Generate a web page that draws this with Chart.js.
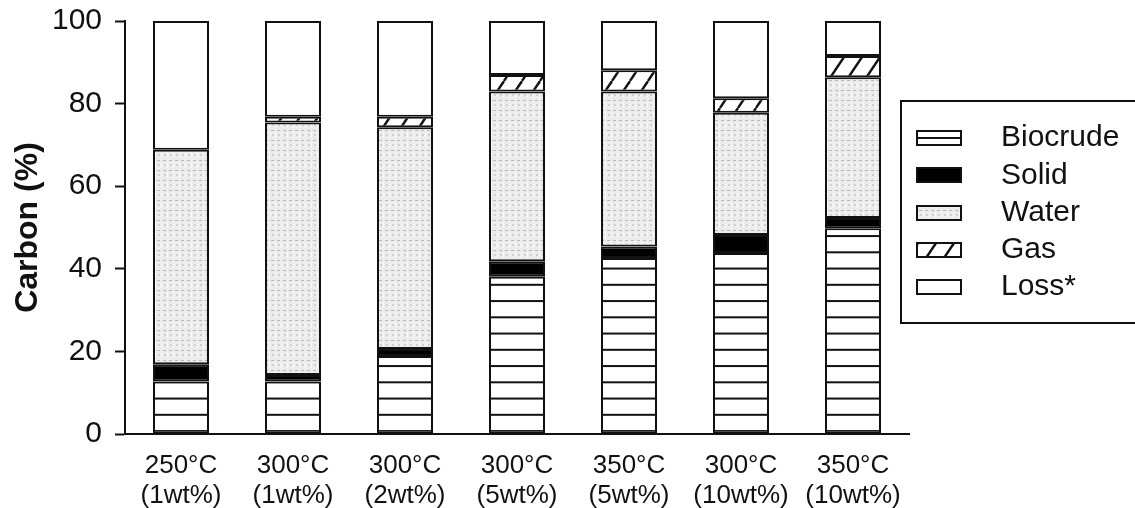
<!DOCTYPE html>
<html><head><meta charset="utf-8">
<script src="https://cdn.jsdelivr.net/npm/chart.js@4.4.1/dist/chart.umd.min.js"></script>
<style>html,body{margin:0;padding:0;background:#fff;}#wrap{width:1135px;height:508px;}</style>
</head><body><div id="wrap"><canvas id="c" width="1135" height="508"></canvas></div>
<script>
const categories = [['250°C','(1wt%)'], ['300°C','(1wt%)'], ['300°C','(2wt%)'], ['300°C','(5wt%)'], ['350°C','(5wt%)'], ['300°C','(10wt%)'], ['350°C','(10wt%)']];
const biocrude = [12.7, 12.7, 18.9, 38.1, 42.6, 43.8, 49.8];
const solid    = [4.2, 1.6, 1.7, 3.7, 2.8, 4.4, 2.5];
const water    = [51.9, 61.1, 53.7, 41.1, 37.5, 29.6, 34.1];
const gas      = [0, 1.4, 2.5, 4.0, 5.2, 3.5, 5.1];
const loss     = [31.2, 23.2, 23.2, 13.1, 11.9, 18.7, 8.5];
const seriesNames = ['Biocrude', 'Solid', 'Water', 'Gas', 'Loss*'];
const yTicks = [0, 20, 40, 60, 80, 100];
const yTitle = 'Carbon (%)';

const FONT = "'Liberation Sans', Arial, sans-serif";
const cv = document.getElementById('c');
const ctx = cv.getContext('2d');

function tile(w, h, draw) {
  const c = document.createElement('canvas');
  c.width = w; c.height = h;
  const g = c.getContext('2d');
  draw(g, w, h);
  return c;
}
// Biocrude: horizontal stripes
const bioTile = tile(16, 16, (g, w, h) => {
  g.fillStyle = '#fff'; g.fillRect(0, 0, w, h);
  g.fillStyle = '#111'; g.fillRect(0, 7, w, 2);
});
const bioPattern = ctx.createPattern(bioTile, 'repeat');
bioPattern.setTransform(new DOMMatrix([1, 0, 0, 16.25 / 16, 0, 0.4]));
// Water: light dotted texture
const waterTile = tile(12, 10, (g, w, h) => {
  g.fillStyle = '#ececec'; g.fillRect(0, 0, w, h);
  g.fillStyle = '#b8b8b8';
  g.fillRect(1, 0, 3, 1); g.fillRect(7, 0, 3, 1);
  g.fillStyle = '#d0d0d0';
  g.fillRect(2, 4, 2, 2); g.fillRect(8, 4, 2, 2);
  g.fillStyle = '#f8f8f8';
  g.fillRect(5, 2, 1, 6); g.fillRect(11, 2, 1, 6);
});
const waterPattern = ctx.createPattern(waterTile, 'repeat');
// Gas: diagonal hatch
const gasTile = tile(18, 27, (g, w, h) => {
  g.fillStyle = '#fff'; g.fillRect(0, 0, w, h);
  g.strokeStyle = '#111'; g.lineWidth = 2.4;
  for (const dx of [-w, 0, w]) {
    g.beginPath(); g.moveTo(dx, h); g.lineTo(dx + w, 0); g.stroke();
  }
});
const gasPattern = ctx.createPattern(gasTile, 'repeat');

const fills = [bioPattern, '#000', waterPattern, gasPattern, '#fff'];
const values = [biocrude, solid, water, gas, loss];

const legendPlugin = {
  id: 'boxLegend',
  afterDraw(chart) {
    const c = chart.ctx;
    c.save();
    c.strokeStyle = '#111'; c.lineWidth = 2;
    c.strokeRect(901, 101, 260, 222);
    const x0 = 917, w = 44, h = 14;
    seriesNames.forEach((name, i) => {
      const cy = 138 + i * 37.3;
      const y = Math.round(cy - h / 2);
      if (i === 0) {
        c.fillStyle = '#fff'; c.fillRect(x0, y, w, h);
        c.fillStyle = '#111'; c.fillRect(x0, y + h / 2 - 1, w, 2);
      } else {
        c.fillStyle = fills[i]; c.fillRect(x0, y, w, h);
      }
      c.strokeStyle = '#111'; c.lineWidth = 2;
      c.strokeRect(x0, y, w, h);
      c.fillStyle = '#111';
      c.font = '30px ' + FONT;
      c.textBaseline = 'middle';
      c.textAlign = 'left';
      c.fillText(name, 1001, cy);
    });
    c.restore();
  }
};

new Chart(cv, {
  type: 'bar',
  data: {
    labels: categories,
    datasets: seriesNames.map((n, i) => ({
      label: n,
      data: values[i],
      backgroundColor: fills[i],
      borderColor: '#111',
      borderWidth: 2,
      borderSkipped: false,
      barPercentage: 0.5,
      categoryPercentage: 1.0
    }))
  },
  options: {
    responsive: false,
    devicePixelRatio: 1,
    animation: false,
    layout: { padding: { left: 0, top: 21, right: 226, bottom: 0 } },
    plugins: { legend: { display: false }, tooltip: { enabled: false } },
    scales: {
      x: {
        stacked: true,
        grid: { display: true, drawOnChartArea: false, drawTicks: false },
        border: { display: true, color: '#111', width: 2 },
        ticks: { color: '#111', font: { family: FONT, size: 26, lineHeight: 1.15 }, padding: 17, maxRotation: 0, autoSkip: false },
        afterFit(s) { s.height = 74; s.paddingLeft = 0; s.paddingRight = 0; }
      },
      y: {
        stacked: true,
        min: 0, max: 100,
        afterBuildTicks(s) { s.ticks = yTicks.map(v => ({ value: v })); },
        grid: { display: true, drawOnChartArea: false, drawTicks: true, tickLength: 10, tickColor: '#111', tickWidth: 2 },
        border: { display: true, color: '#111', width: 2 },
        ticks: { color: '#111', font: { family: FONT, size: 30 }, padding: 13 },
        title: { display: true, text: yTitle, color: '#111', font: { family: FONT, size: 32, weight: 'bold', lineHeight: 1.0 }, padding: { top: 12, bottom: 0 } },
        afterFit(s) { s.width = 125; s.paddingTop = 0; s.paddingBottom = 0; }
      }
    }
  },
  plugins: [legendPlugin]
});
</script></body></html>
